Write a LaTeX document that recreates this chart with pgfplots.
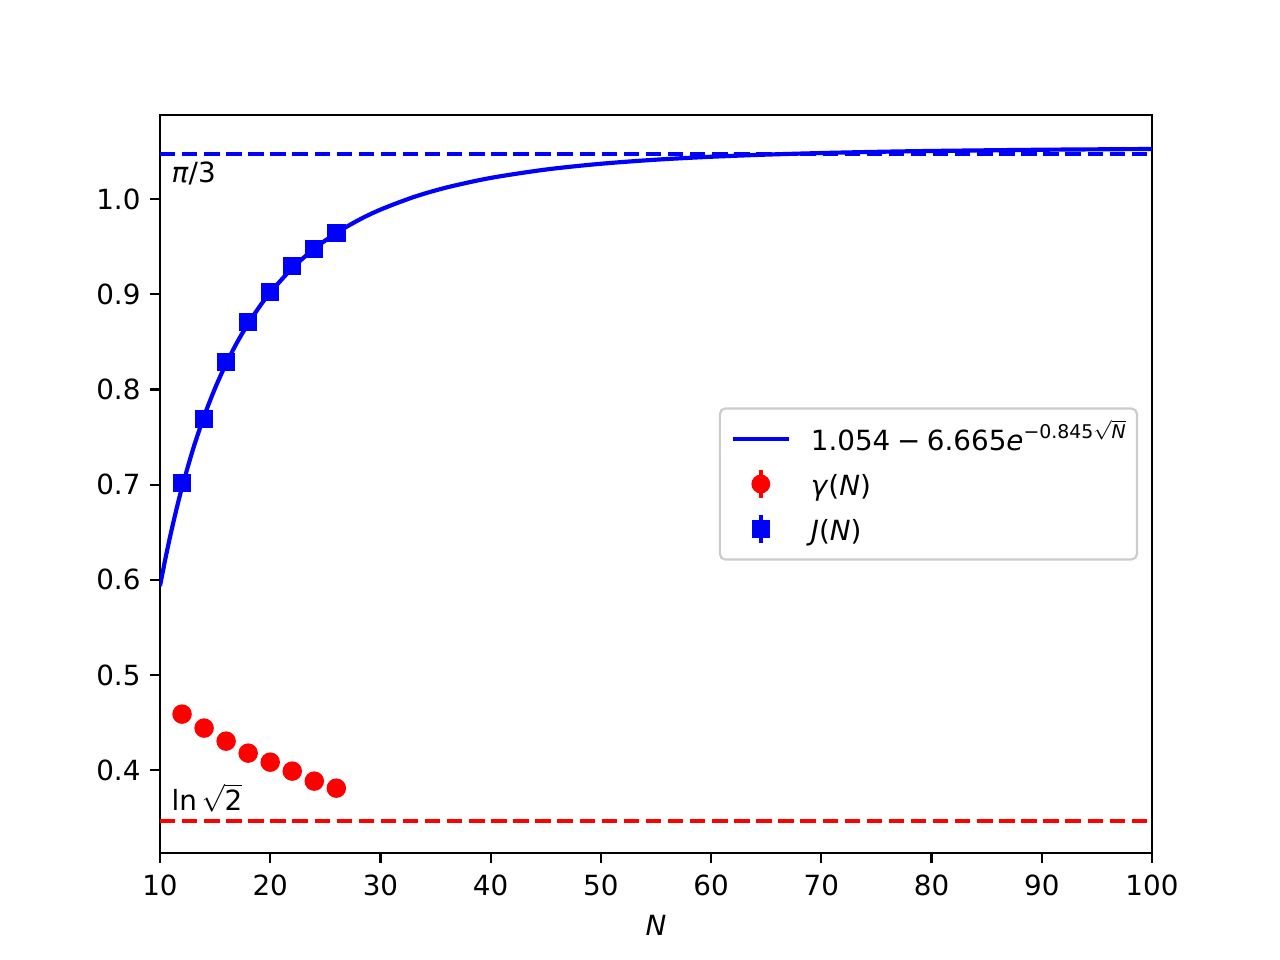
\documentclass[border=0pt]{standalone}
\usepackage{fontspec}
\setmainfont{DejaVu Sans}
\usepackage{pgfplots}
\pgfplotsset{compat=1.18}
\begin{document}
\fontsize{10}{12}\selectfont
\begin{tikzpicture}
\useasboundingbox (-57.6pt,-38.52pt) rectangle (403.2pt,307.08pt);
\begin{axis}[
  at={(0,0)}, anchor=south west,
  scale only axis, width=357.12pt, height=265.68pt,
  xmin=10, xmax=100, ymin=0.313, ymax=1.0883,
  xtick={10,20,30,40,50,60,70,80,90,100},
  ytick={0.4,0.5,0.6,0.7,0.8,0.9,1.0},
  tick pos=left, tick align=outside, major tick length=3.5pt,
  every tick/.style={black, line width=0.8pt},
  axis line style={line width=0.8pt},
  /pgf/number format/assume math mode=true,
  yticklabel style={/pgf/number format/.cd, fixed, fixed zerofill, precision=1},
  xticklabel style={yshift=-1pt, /pgf/number format/.cd, fixed, precision=0},
  ticklabel style={font=\fontsize{10}{12}\selectfont},
  xlabel={\textit{N}},
  xlabel style={font=\fontsize{10}{12}\selectfont},
  legend style={at={(rel axis cs:1,0.5)}, anchor=east, xshift=-5pt,
    draw=black!20, line width=0.8pt, rounded corners=2pt, fill=white,
    font=\fontsize{10}{12}\selectfont,
    inner xsep=4pt, inner ysep=2.9pt, row sep=0pt,
    nodes={inner sep=0pt, text height=12.4pt, text depth=3.8pt}},
  legend cell align=left,
]
\addplot[blue, line width=1.5pt, dash pattern=on 5.55pt off 2.4pt, forget plot] coordinates {(10,1.0472) (100,1.0472)};
\addplot[red, line width=1.5pt, dash pattern=on 5.55pt off 2.4pt, forget plot] coordinates {(10,0.3466) (100,0.3466)};
\addplot[blue, line width=1.5pt, smooth,
  legend image code/.code={\path[draw=none, fill=none] (0pt,0pt) -- (28pt,0pt); \draw[blue, line width=1.5pt, solid] (0pt,0pt) -- (20pt,0pt);}]
  coordinates {
  (10,0.59341) (10.5,0.6228) (11,0.64973) (11.5,0.6744) (12,0.69710) (13,0.73731)
  (14,0.77171) (15,0.80136) (16,0.82708) (17,0.84950) (18,0.86914) (19,0.88643)
  (20,0.90173) (22,0.92738) (24,0.94783) (26,0.96435) (28,0.97780) (30,0.98887)
  (33,1.00204) (36,1.01213) (40,1.02217) (45,1.03098) (50,1.03706) (55,1.04135)
  (60,1.04442) (65,1.04667) (70,1.04833) (75,1.04958) (80,1.05052) (90,1.05180)
  (100,1.05257)};
\addlegendentry{1.054\hspace{2.4pt}−\hspace{2.4pt}6.665\textit{e}\raisebox{0.8ex}{\fontsize{6.8}{8}\selectfont −0.845$\sqrt{\mbox{\itshape N}}$}}
\addplot[only marks, mark=*, mark size=3pt, mark options={draw=red, fill=red, line width=1pt},
  legend image code/.code={\path[draw=none, fill=none] (0pt,0pt) -- (28pt,0pt); \draw[red, line width=1.5pt, solid, sharp corners] (10pt,-5pt) -- (10pt,5pt); \fill[red, draw=none] (10pt,0pt) circle (3.4pt);}]
  coordinates {(12,0.4589) (14,0.4442) (16,0.4305) (18,0.4179) (20,0.4084) (22,0.3990) (24,0.3885) (26,0.3811)};
\addlegendentry{\textit{γ}(\textit{N})}
\addplot[only marks, mark=square*, mark size=2.8pt, mark options={draw=blue, fill=blue, line width=1pt},
  legend image code/.code={\path[draw=none, fill=none] (0pt,0pt) -- (28pt,0pt); \draw[blue, line width=1.5pt, solid, sharp corners] (10pt,-5pt) -- (10pt,5pt); \fill[blue, draw=none, sharp corners] (6.7pt,-3.3pt) rectangle (13.3pt,3.3pt);}]
  coordinates {(12,0.7016) (14,0.7690) (16,0.8287) (18,0.8708) (20,0.9023) (22,0.9296) (24,0.9475) (26,0.9643)};
\addlegendentry{\textit{J}(\textit{N})}
\node[anchor=base west, inner sep=0pt] at (axis cs:11,1.017) {\textit{π}/3};
\node[anchor=base west, inner sep=0pt] at (axis cs:11,0.358) {ln\,$\sqrt{\mbox{2}}$};
\end{axis}
\end{tikzpicture}
\end{document}
